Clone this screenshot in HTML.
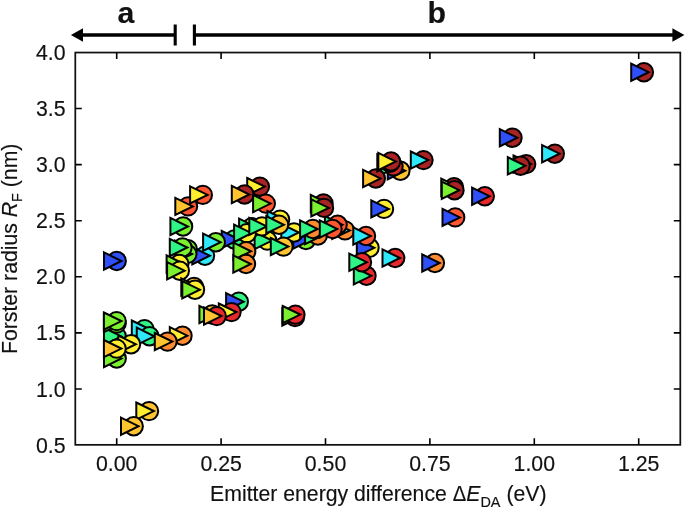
<!DOCTYPE html><html><head><meta charset="utf-8"><title>chart</title><style>html,body{margin:0;padding:0;background:#fff;}svg{display:block;will-change:transform;}text{font-family:"Liberation Sans",sans-serif;fill:#111;stroke:#111;stroke-width:0.15px;}</style></head><body>
<svg width="685" height="508" viewBox="0 0 685 508">
<rect width="685" height="508" fill="#fff"/>
<g stroke="#000" stroke-width="2.0" stroke-linejoin="miter">
<circle cx="116.7" cy="261" r="9.2" fill="#2F4FF8"/><path d="M104.0 252.4L121.5 261L104.0 269.6Z" fill="#2F4FF8"/>
<circle cx="116.7" cy="336.4" r="9.2" fill="#30F586"/><path d="M104.0 327.8L121.5 336.4L104.0 345.0Z" fill="#30F586"/>
<circle cx="116.7" cy="358.5" r="9.2" fill="#7CF030"/><path d="M104.0 349.9L121.5 358.5L104.0 367.1Z" fill="#7CF030"/>
<circle cx="116.6" cy="323.6" r="9.2" fill="#7CF030"/><path d="M103.9 315.0L121.4 323.6L103.9 332.2Z" fill="#7CF030"/>
<circle cx="116.6" cy="321.1" r="9.2" fill="#7CF030"/><path d="M103.9 312.5L121.4 321.1L103.9 329.7Z" fill="#7CF030"/>
<circle cx="144.5" cy="329.1" r="9.2" fill="#30F586"/><path d="M131.8 320.5L149.3 329.1L131.8 337.7Z" fill="#2FE8F8"/>
<circle cx="149.5" cy="336.3" r="9.2" fill="#30F586"/><path d="M136.8 327.7L154.3 336.3L136.8 344.9Z" fill="#2FE8F8"/>
<circle cx="131.0" cy="344.2" r="9.2" fill="#FFEE30"/><path d="M118.3 335.6L135.8 344.2L118.3 352.8Z" fill="#FFEE30"/>
<circle cx="116.6" cy="348.6" r="9.2" fill="#FFEE30"/><path d="M103.9 340.0L121.4 348.6L103.9 357.2Z" fill="#FFC42F"/>
<circle cx="182.5" cy="335.7" r="9.2" fill="#FF8A2F"/><path d="M169.8 327.1L187.3 335.7L169.8 344.3Z" fill="#FFEE30"/>
<circle cx="167.5" cy="341.6" r="9.2" fill="#FF8A2F"/><path d="M154.8 333.0L172.3 341.6L154.8 350.2Z" fill="#FFC42F"/>
<circle cx="149" cy="411.1" r="9.2" fill="#FFC42F"/><path d="M136.3 402.5L153.8 411.1L136.3 419.7Z" fill="#FFEE30"/>
<circle cx="133.7" cy="426.2" r="9.2" fill="#FFC42F"/><path d="M121.0 417.6L138.5 426.2L121.0 434.8Z" fill="#FFC42F"/>
<circle cx="188" cy="206.4" r="9.2" fill="#FF5530"/><path d="M175.3 197.8L192.8 206.4L175.3 215.0Z" fill="#FFC42F"/>
<circle cx="202.8" cy="194.9" r="9.2" fill="#FF5530"/><path d="M190.1 186.3L207.6 194.9L190.1 203.5Z" fill="#FFEE30"/>
<circle cx="183.1" cy="226.5" r="9.2" fill="#7CF030"/><path d="M170.4 217.9L187.9 226.5L170.4 235.1Z" fill="#30F586"/>
<circle cx="205" cy="255.7" r="9.2" fill="#2FE8F8"/><path d="M192.3 247.1L209.8 255.7L192.3 264.3Z" fill="#2F4FF8"/>
<circle cx="187.8" cy="249.3" r="9.2" fill="#7CF030"/><path d="M175.1 240.7L192.6 249.3L175.1 257.9Z" fill="#30F586"/>
<circle cx="187.3" cy="254" r="9.2" fill="#7CF030"/><path d="M174.6 245.4L192.1 254L174.6 262.6Z" fill="#30F586"/>
<circle cx="182.5" cy="247.5" r="9.2" fill="#7CF030"/><path d="M169.8 238.9L187.3 247.5L169.8 256.1Z" fill="#30F586"/>
<circle cx="234.4" cy="239.5" r="9.2" fill="#30F586"/><path d="M221.7 230.9L239.2 239.5L221.7 248.1Z" fill="#2F4FF8"/>
<circle cx="215.8" cy="242.2" r="9.2" fill="#7CF030"/><path d="M203.1 233.6L220.6 242.2L203.1 250.8Z" fill="#2FE8F8"/>
<circle cx="179.3" cy="264.0" r="9.2" fill="#FFEE30"/><path d="M166.6 255.4L184.1 264.0L166.6 272.6Z" fill="#7CF030"/>
<circle cx="179.8" cy="270.7" r="9.2" fill="#FFEE30"/><path d="M167.1 262.1L184.6 270.7L167.1 279.3Z" fill="#7CF030"/>
<circle cx="194" cy="287" r="9.2" fill="#FFC42F"/><path d="M181.3 278.4L198.8 287L181.3 295.6Z" fill="#7CF030"/>
<circle cx="195" cy="289.7" r="9.2" fill="#FFEE30"/><path d="M182.3 281.1L199.8 289.7L182.3 298.3Z" fill="#7CF030"/>
<circle cx="212.1" cy="314.5" r="9.2" fill="#FFC42F"/><path d="M199.4 305.9L216.9 314.5L199.4 323.1Z" fill="#7CF030"/>
<circle cx="238.8" cy="301.7" r="9.2" fill="#30F586"/><path d="M226.1 293.1L243.6 301.7L226.1 310.3Z" fill="#2F4FF8"/>
<circle cx="231.5" cy="312.1" r="9.2" fill="#E8282C"/><path d="M218.8 303.5L236.3 312.1L218.8 320.7Z" fill="#FFEE30"/>
<circle cx="216.7" cy="316.1" r="9.2" fill="#E8282C"/><path d="M204.0 307.5L221.5 316.1L204.0 324.7Z" fill="#FFC42F"/>
<circle cx="259.9" cy="186.6" r="9.2" fill="#A92224"/><path d="M247.2 178.0L264.7 186.6L247.2 195.2Z" fill="#FFEE30"/>
<circle cx="244.5" cy="194.5" r="9.2" fill="#A92224"/><path d="M231.8 185.9L249.3 194.5L231.8 203.1Z" fill="#FFC42F"/>
<circle cx="265.8" cy="203.6" r="9.2" fill="#FF5530"/><path d="M253.1 195.0L270.6 203.6L253.1 212.2Z" fill="#7CF030"/>
<circle cx="267.3" cy="240.6" r="9.2" fill="#FFEE30"/><path d="M254.6 232.0L272.1 240.6L254.6 249.2Z" fill="#30F586"/>
<circle cx="251.8" cy="227.3" r="9.2" fill="#FFEE30"/><path d="M239.1 218.7L256.6 227.3L239.1 235.9Z" fill="#30F586"/>
<circle cx="246.8" cy="233.2" r="9.2" fill="#FFEE30"/><path d="M234.1 224.6L251.6 233.2L234.1 241.8Z" fill="#30F586"/>
<circle cx="246.2" cy="251.3" r="9.2" fill="#FF8A2F"/><path d="M233.5 242.7L251.0 251.3L233.5 259.9Z" fill="#7CF030"/>
<circle cx="246" cy="264" r="9.2" fill="#FF8A2F"/><path d="M233.3 255.4L250.8 264L233.3 272.6Z" fill="#7CF030"/>
<circle cx="262" cy="226.4" r="9.2" fill="#FFEE30"/><path d="M249.3 217.8L266.8 226.4L249.3 235.0Z" fill="#30F586"/>
<circle cx="280.1" cy="219.6" r="9.2" fill="#FFEE30"/><path d="M267.4 211.0L284.9 219.6L267.4 228.2Z" fill="#2FE8F8"/>
<circle cx="306" cy="240" r="9.2" fill="#7CF030"/><path d="M293.3 231.4L310.8 240L293.3 248.6Z" fill="#2F4FF8"/>
<circle cx="294" cy="232.5" r="9.2" fill="#FFEE30"/><path d="M281.3 223.9L298.8 232.5L281.3 241.1Z" fill="#2FE8F8"/>
<circle cx="279" cy="224.8" r="9.2" fill="#FFC42F"/><path d="M266.3 216.2L283.8 224.8L266.3 233.4Z" fill="#30F586"/>
<circle cx="283.5" cy="246.6" r="9.2" fill="#FFC42F"/><path d="M270.8 238.0L288.3 246.6L270.8 255.2Z" fill="#30F586"/>
<circle cx="317.8" cy="235.5" r="9.2" fill="#FF8A2F"/><path d="M305.1 226.9L322.6 235.5L305.1 244.1Z" fill="#30F586"/>
<circle cx="312.8" cy="229" r="9.2" fill="#FF8A2F"/><path d="M300.1 220.4L317.6 229L300.1 237.6Z" fill="#30F586"/>
<circle cx="345" cy="230.4" r="9.2" fill="#FF8A2F"/><path d="M332.3 221.8L349.8 230.4L332.3 239.0Z" fill="#2FE8F8"/>
<circle cx="337.6" cy="224.8" r="9.2" fill="#FF5530"/><path d="M324.9 216.2L342.4 224.8L324.9 233.4Z" fill="#30F586"/>
<circle cx="332.5" cy="229" r="9.2" fill="#FF5530"/><path d="M319.8 220.4L337.3 229L319.8 237.6Z" fill="#30F586"/>
<circle cx="323.5" cy="203.5" r="9.2" fill="#A92224"/><path d="M310.8 194.9L328.3 203.5L310.8 212.1Z" fill="#7CF030"/>
<circle cx="324" cy="207.9" r="9.2" fill="#A92224"/><path d="M311.3 199.3L328.8 207.9L311.3 216.5Z" fill="#7CF030"/>
<circle cx="369.5" cy="247.8" r="9.2" fill="#FFEE30"/><path d="M356.8 239.2L374.3 247.8L356.8 256.4Z" fill="#2F4FF8"/>
<circle cx="366" cy="236" r="9.2" fill="#FF5530"/><path d="M353.3 227.4L370.8 236L353.3 244.6Z" fill="#2FE8F8"/>
<circle cx="366.5" cy="275.8" r="9.2" fill="#E8282C"/><path d="M353.8 267.2L371.3 275.8L353.8 284.4Z" fill="#30F586"/>
<circle cx="362" cy="262.2" r="9.2" fill="#E8282C"/><path d="M349.3 253.6L366.8 262.2L349.3 270.8Z" fill="#30F586"/>
<circle cx="395.2" cy="258" r="9.2" fill="#E8282C"/><path d="M382.5 249.4L400.0 258L382.5 266.6Z" fill="#2FE8F8"/>
<circle cx="434.9" cy="263" r="9.2" fill="#FF8A2F"/><path d="M422.2 254.4L439.7 263L422.2 271.6Z" fill="#2F4FF8"/>
<circle cx="384" cy="208.9" r="9.2" fill="#FFEE30"/><path d="M371.3 200.3L388.8 208.9L371.3 217.5Z" fill="#2F4FF8"/>
<circle cx="295" cy="317" r="9.2" fill="#E8282C"/><path d="M282.3 308.4L299.8 317L282.3 325.6Z" fill="#7CF030"/>
<circle cx="295.4" cy="314.6" r="9.2" fill="#E8282C"/><path d="M282.7 306.0L300.2 314.6L282.7 323.2Z" fill="#7CF030"/>
<circle cx="400.4" cy="170.7" r="9.2" fill="#FFC42F"/><path d="M387.7 162.1L405.2 170.7L387.7 179.3Z" fill="#2F4FF8"/>
<circle cx="393.5" cy="166.4" r="9.2" fill="#D02A2A"/><path d="M380.8 157.8L398.3 166.4L380.8 175.0Z" fill="#30F586"/>
<circle cx="375.8" cy="178.5" r="9.2" fill="#A92224"/><path d="M363.1 169.9L380.6 178.5L363.1 187.1Z" fill="#FFC42F"/>
<circle cx="390.0" cy="162.9" r="9.2" fill="#A92224"/><path d="M377.3 154.3L394.8 162.9L377.3 171.5Z" fill="#FFEE30"/>
<circle cx="391.0" cy="161.5" r="9.2" fill="#A92224"/><path d="M378.3 152.9L395.8 161.5L378.3 170.1Z" fill="#FFEE30"/>
<circle cx="423.5" cy="160.1" r="9.2" fill="#A92224"/><path d="M410.8 151.5L428.3 160.1L410.8 168.7Z" fill="#2FE8F8"/>
<circle cx="454" cy="187.3" r="9.2" fill="#A92224"/><path d="M441.3 178.7L458.8 187.3L441.3 195.9Z" fill="#7CF030"/>
<circle cx="454.5" cy="190.2" r="9.2" fill="#A92224"/><path d="M441.8 181.6L459.3 190.2L441.8 198.8Z" fill="#7CF030"/>
<circle cx="484.8" cy="196.2" r="9.2" fill="#E8282C"/><path d="M472.1 187.6L489.6 196.2L472.1 204.8Z" fill="#2F4FF8"/>
<circle cx="455.2" cy="217.4" r="9.2" fill="#FF5530"/><path d="M442.5 208.8L460.0 217.4L442.5 226.0Z" fill="#2F4FF8"/>
<circle cx="512.5" cy="137.7" r="9.2" fill="#A92224"/><path d="M499.8 129.1L517.3 137.7L499.8 146.3Z" fill="#2F4FF8"/>
<circle cx="526.2" cy="164.1" r="9.2" fill="#A92224"/><path d="M513.5 155.5L531.0 164.1L513.5 172.7Z" fill="#30F586"/>
<circle cx="520.5" cy="165.8" r="9.2" fill="#A92224"/><path d="M507.8 157.2L525.3 165.8L507.8 174.4Z" fill="#30F586"/>
<circle cx="554.8" cy="153.7" r="9.2" fill="#A92224"/><path d="M542.1 145.1L559.6 153.7L542.1 162.3Z" fill="#2FE8F8"/>
<circle cx="643.9" cy="72.2" r="9.2" fill="#A92224"/><path d="M631.2 63.6L648.7 72.2L631.2 80.8Z" fill="#2F4FF8"/>
</g>
<rect x="75.3" y="52.55" width="605.0" height="392.3" fill="none" stroke="#111" stroke-width="1.75"/>
<path d="M116.7 444.85v-6.5M116.7 52.55v6.5M221.1 444.85v-6.5M221.1 52.55v6.5M325.5 444.85v-6.5M325.5 52.55v6.5M429.9 444.85v-6.5M429.9 52.55v6.5M534.3 444.85v-6.5M534.3 52.55v6.5M638.7 444.85v-6.5M638.7 52.55v6.5M75.3 389.0h6.5M680.3 389.0h-6.5M75.3 332.9h6.5M680.3 332.9h-6.5M75.3 276.8h6.5M680.3 276.8h-6.5M75.3 220.7h6.5M680.3 220.7h-6.5M75.3 164.6h6.5M680.3 164.6h-6.5M75.3 108.5h6.5M680.3 108.5h-6.5" stroke="#000" stroke-width="1.6" fill="none"/>
<g font-size="21.3px">
<text transform="translate(116.7 470.8) scale(1 1.07)" text-anchor="middle">0.00</text>
<text transform="translate(221.1 470.8) scale(1 1.07)" text-anchor="middle">0.25</text>
<text transform="translate(325.5 470.8) scale(1 1.07)" text-anchor="middle">0.50</text>
<text transform="translate(429.9 470.8) scale(1 1.07)" text-anchor="middle">0.75</text>
<text transform="translate(534.3 470.8) scale(1 1.07)" text-anchor="middle">1.00</text>
<text transform="translate(638.7 470.8) scale(1 1.07)" text-anchor="middle">1.25</text>
<text transform="translate(65.6 452.6) scale(1 1.07)" text-anchor="end">0.5</text>
<text transform="translate(65.6 396.5) scale(1 1.07)" text-anchor="end">1.0</text>
<text transform="translate(65.6 340.4) scale(1 1.07)" text-anchor="end">1.5</text>
<text transform="translate(65.6 284.3) scale(1 1.07)" text-anchor="end">2.0</text>
<text transform="translate(65.6 228.2) scale(1 1.07)" text-anchor="end">2.5</text>
<text transform="translate(65.6 172.1) scale(1 1.07)" text-anchor="end">3.0</text>
<text transform="translate(65.6 116.0) scale(1 1.07)" text-anchor="end">3.5</text>
<text transform="translate(65.6 59.9) scale(1 1.07)" text-anchor="end">4.0</text>
</g>
<text id="xl" transform="translate(210.1 501.3) scale(1 1.06)" font-size="21px" textLength="336.4" lengthAdjust="spacingAndGlyphs">Emitter energy difference <tspan font-size="20px">Δ</tspan><tspan font-style="italic">E</tspan><tspan font-size="14.3px" dy="5.6">DA</tspan><tspan dy="-5.6"> (eV)</tspan></text>
<text id="yl" transform="translate(16.6 354.0) rotate(-90) scale(1 1.06)" font-size="21px" textLength="210.4" lengthAdjust="spacingAndGlyphs">Forster radius <tspan font-style="italic">R</tspan><tspan font-size="14.3px" dy="5">F</tspan><tspan dy="-5"> (nm)</tspan></text>
<g stroke="#000" fill="none"><path d="M82 35H175.2M194.4 35H673" stroke-width="3.3"/><path d="M175.2 24.5V45.5M194.4 24.5V45.5" stroke-width="3.1"/></g>
<path d="M70.9 35L83 28.2V41.8ZM684.4 35L672.4 28.2V41.8Z" fill="#000"/>
<text transform="translate(126 23)" font-size="30.3px" font-weight="bold" text-anchor="middle">a</text>
<text transform="translate(436.8 23)" font-size="30.3px" font-weight="bold" text-anchor="middle">b</text>
</svg></body></html>
